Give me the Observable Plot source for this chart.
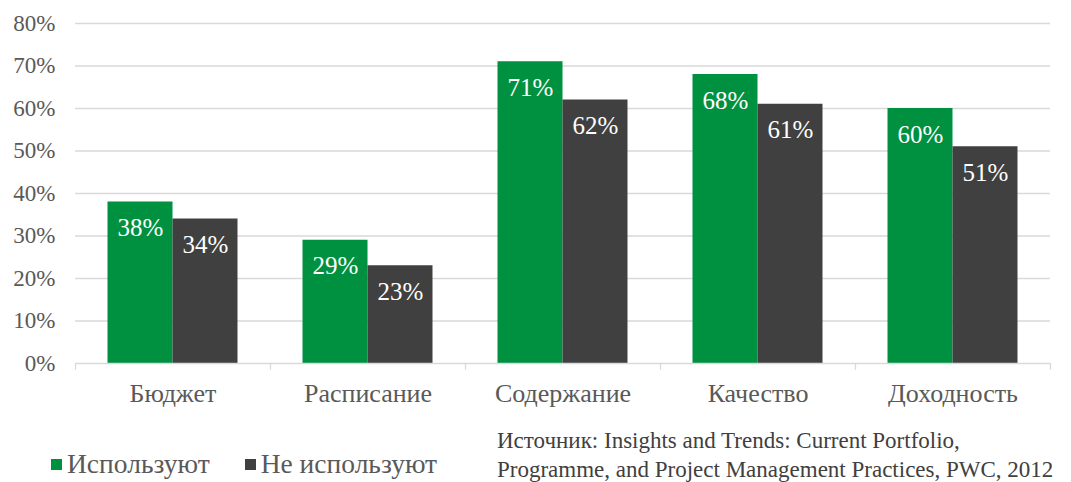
<!DOCTYPE html>
<html>
<head>
<meta charset="utf-8">
<script src="https://cdn.jsdelivr.net/npm/d3@7"></script>
<script src="https://cdn.jsdelivr.net/npm/@observablehq/plot@0.6"></script>
<style>
  body { margin: 0; background: #fff; font-family: "Liberation Serif", "DejaVu Serif", serif; }
  #wrap { position: relative; width: 1071px; height: 482px; overflow: hidden; font-family: "Liberation Serif", serif; }
  svg text { font-family: "Liberation Serif", serif !important; }
  #legend { position: absolute; left: 51px; top: 448px; display: flex; align-items: center; font-size: 27.5px; line-height: 32px; color: #595959; font-family: "Liberation Serif", serif; }
  #legend .sw { display: inline-block; width: 11px; height: 11px; margin-right: 5px; }
  #legend .item { display: flex; align-items: center; margin-right: 35px; }
  #source { position: absolute; left: 497px; top: 426px; font-size: 23px; line-height: 29px; color: #404040; font-family: "Liberation Serif", serif; white-space: nowrap; }
</style>
</head>
<body>
<div id="wrap">
  <div id="chart"></div>
  <div id="legend"></div>
  <div id="source">Источник: Insights and Trends: Current Portfolio,<br>Programme, and Project Management Practices, PWC, 2012</div>
</div>
<script>
const categories = ["Бюджет", "Расписание", "Содержание", "Качество", "Доходность"];
const seriesNames = ["Используют", "Не используют"];
const used = [0.38, 0.29, 0.71, 0.68, 0.60];
const notUsed = [0.34, 0.23, 0.62, 0.61, 0.51];
const yTicks = [0, 0.1, 0.2, 0.3, 0.4, 0.5, 0.6, 0.7, 0.8];
const colors = ["#009140", "#404040"];

const data = [];
categories.forEach((c, i) => {
  data.push({category: c, series: seriesNames[0], value: used[i]});
  data.push({category: c, series: seriesNames[1], value: notUsed[i]});
});

const W = 1071, ML = 75, MR = 21;
const band = (W - ML - MR) / categories.length;
const barW = band / 3;
const pad = barW / 2;
const FONT = "Liberation Serif";

const fmt = d3.format(".0%");

const chart = Plot.plot({
  width: W,
  height: 410,
  marginLeft: ML,
  marginRight: MR,
  marginTop: 23,
  marginBottom: 47,
  style: { fontFamily: FONT, background: "#fff" },
  x: { domain: categories, padding: 0, label: null },
  y: { domain: [0, 0.8], label: null },
  color: { domain: seriesNames, range: colors },
  marks: [
    Plot.gridY(yTicks.filter(d => d > 0), { stroke: "#d9d9d9", strokeOpacity: 1, strokeWidth: 1.3 }),
    Plot.axisY({ ticks: yTicks, tickFormat: fmt, tickSize: 0, tickPadding: 20, fontSize: 23, fontFamily: FONT, fill: "#595959", label: null }),
    Plot.axisX({ tickSize: 0, tickPadding: 20, fontSize: 26, fontFamily: FONT, fill: "#595959", label: null }),
    Plot.barY(data.filter(d => d.series === seriesNames[0]), {
      x: "category", y: "value", fill: "series", insetLeft: pad, insetRight: pad + barW
    }),
    Plot.barY(data.filter(d => d.series === seriesNames[1]), {
      x: "category", y: "value", fill: "series", insetLeft: pad + barW, insetRight: pad
    }),
    Plot.text(data.filter(d => d.series === seriesNames[0]), {
      x: "category", y: "value", text: d => fmt(d.value), dx: -barW / 2, dy: 26,
      fill: "white", fontSize: 25, fontFamily: FONT, textAnchor: "middle", lineAnchor: "middle"
    }),
    Plot.text(data.filter(d => d.series === seriesNames[1]), {
      x: "category", y: "value", text: d => fmt(d.value), dx: barW / 2, dy: 26,
      fill: "white", fontSize: 25, fontFamily: FONT, textAnchor: "middle", lineAnchor: "middle"
    }),
    Plot.ruleY([0], { stroke: "#d9d9d9", strokeWidth: 1.3 }),
    Plot.ruleX(categories, { x: d => d, y1: 0, y2: -0.016, dx: -band / 2, stroke: "#d9d9d9", strokeWidth: 1.3 }),
    Plot.ruleX(categories.slice(-1), { x: d => d, y1: 0, y2: -0.016, dx: band / 2, stroke: "#d9d9d9", strokeWidth: 1.3 })
  ]
});
document.getElementById("chart").appendChild(chart);

const legend = document.getElementById("legend");
seriesNames.forEach((s, i) => {
  const item = document.createElement("span");
  item.className = "item";
  const sw = document.createElement("span");
  sw.className = "sw";
  sw.style.background = colors[i];
  item.appendChild(sw);
  item.appendChild(document.createTextNode(s));
  legend.appendChild(item);
});
</script>
</body>
</html>
